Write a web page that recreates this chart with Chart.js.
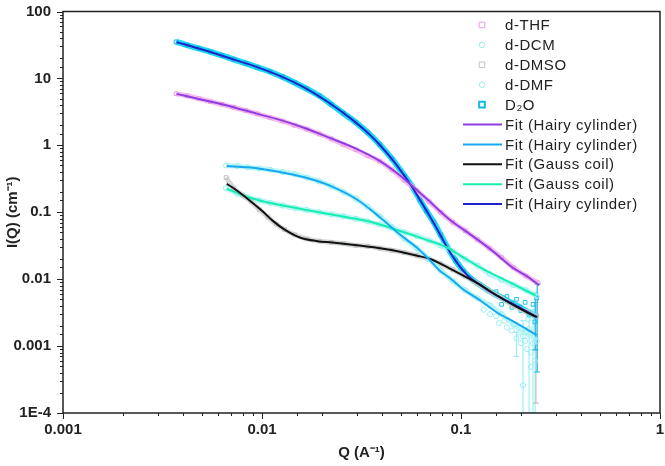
<!DOCTYPE html>
<html>
<head>
<meta charset="utf-8">
<script src="https://cdn.jsdelivr.net/npm/chart.js@4.4.0/dist/chart.umd.min.js"></script>
<style>
  body { margin: 0; background: #fff; }
  #wrap { width: 665px; height: 466px; }
</style>
</head>
<body>
<div id="wrap"><canvas id="sansChart" width="665" height="466"></canvas></div>
<script>
// ---- values (Q in A^-1, I in cm^-1) ----

// measured points
const thfQ = [0.0037, 0.0042, 0.0048, 0.0055, 0.0063, 0.0072, 0.0083, 0.0095, 0.011, 0.0127, 0.0146, 0.0168, 0.0194, 0.0223, 0.0257, 0.0296, 0.034, 0.039, 0.045, 0.052, 0.06, 0.069, 0.079, 0.091, 0.105, 0.121, 0.139, 0.16, 0.184, 0.212, 0.244];
const thfI = [5.9, 5.5, 5.0, 4.5, 4.1, 3.7, 3.3, 2.95, 2.6, 2.3, 2.0, 1.75, 1.48, 1.25, 1.03, 0.86, 0.7, 0.58, 0.43, 0.3, 0.21, 0.145, 0.1, 0.071, 0.053, 0.039, 0.029, 0.021, 0.0148, 0.0112, 0.0088];

const dcmQ = [0.0066, 0.0075, 0.0085, 0.0097, 0.011, 0.0127, 0.0146, 0.0168, 0.0194, 0.0223, 0.0257, 0.0296, 0.034, 0.039, 0.045, 0.052, 0.06, 0.069, 0.079, 0.091, 0.105, 0.121, 0.139, 0.16, 0.184, 0.212, 0.24];
const dcmI = [0.5, 0.49, 0.47, 0.45, 0.43, 0.4, 0.37, 0.33, 0.29, 0.245, 0.2, 0.16, 0.12, 0.087, 0.06, 0.04, 0.029, 0.02, 0.0135, 0.0094, 0.0068, 0.0052, 0.0041, 0.003, 0.0021, 0.0016, 0.0012];

const dmsoQ = [0.0066, 0.0072, 0.008, 0.0088, 0.0097, 0.0107, 0.0118, 0.013, 0.0146, 0.0168, 0.0194, 0.0223, 0.0257, 0.0296, 0.034, 0.039, 0.045, 0.052, 0.06, 0.069, 0.079, 0.091, 0.105, 0.121, 0.139, 0.16, 0.184, 0.212, 0.24];
const dmsoI = [0.33, 0.23, 0.18, 0.145, 0.11, 0.085, 0.066, 0.055, 0.046, 0.04, 0.037, 0.0355, 0.034, 0.032, 0.031, 0.029, 0.027, 0.025, 0.0225, 0.02, 0.017, 0.0138, 0.011, 0.0086, 0.0066, 0.0052, 0.004, 0.0033, 0.0028];

const dmfQ = [0.0066, 0.0075, 0.0085, 0.0097, 0.011, 0.0127, 0.0146, 0.0168, 0.0194, 0.0223, 0.0257, 0.0296, 0.034, 0.039, 0.045, 0.052, 0.06, 0.069, 0.079, 0.091, 0.105, 0.121, 0.139, 0.16, 0.184, 0.212, 0.24];
const dmfI = [0.23, 0.19, 0.167, 0.15, 0.138, 0.126, 0.116, 0.108, 0.1, 0.093, 0.087, 0.08, 0.073, 0.066, 0.058, 0.05, 0.044, 0.038, 0.032, 0.026, 0.02, 0.016, 0.012, 0.0098, 0.0082, 0.0068, 0.0056];

const d2oQ = [0.0037, 0.0042, 0.0048, 0.0055, 0.0063, 0.0072, 0.0083, 0.0095, 0.011, 0.0127, 0.0146, 0.0168, 0.0194, 0.0223, 0.0257, 0.0296, 0.034, 0.039, 0.045, 0.052, 0.057, 0.062, 0.067, 0.073, 0.079, 0.086, 0.094, 0.103, 0.113, 0.124, 0.136, 0.149, 0.164, 0.18, 0.198, 0.218, 0.24];
const d2oI = [35.2, 31.5, 28, 25, 22, 19.3, 16.8, 14.6, 12.6, 10.5, 8.6, 7.0, 5.5, 4.1, 3.0, 2.2, 1.55, 1.03, 0.63, 0.35, 0.24, 0.155, 0.105, 0.071, 0.046, 0.029, 0.019, 0.0132, 0.01, 0.0083, 0.0069, 0.0059, 0.0051, 0.0044, 0.0038, 0.0032, 0.0028];

// noisy high-Q points
const tailLightQ = [0.13, 0.14, 0.15, 0.155, 0.165, 0.17, 0.18, 0.185, 0.19, 0.195, 0.2, 0.205, 0.21, 0.215, 0.22, 0.225, 0.23, 0.235, 0.205, 0.225, 0.218];
const tailLightI = [0.0035, 0.003, 0.0028, 0.0022, 0.0024, 0.0019, 0.0017, 0.0021, 0.0013, 0.0016, 0.0011, 0.0014, 0.0012, 0.0009, 0.0018, 0.0008, 0.0011, 0.0006, 0.00026, 0.00049, 0.0025];
const tailD2oQ = [0.15, 0.16, 0.17, 0.18, 0.19, 0.2, 0.21, 0.22, 0.23, 0.235, 0.24];
const tailD2oI = [0.0065, 0.0042, 0.0055, 0.0038, 0.005, 0.0034, 0.0045, 0.0029, 0.0042, 0.0023, 0.0052];

// error bars at the end of the curves
const errLightQ = [0.19, 0.205, 0.22, 0.23, 0.236];
const errLightHi = [0.0016, 0.0024, 0.003, 0.0035, 0.004];
const errLightLo = [0.0007, 0.0001, 0.0001, 0.0001, 0.0001];
const errD2oQ = [0.236, 0.2415];
const errD2oHi = [0.0062, 0.0085];
const errD2oLo = [0.00088, 0.00041];
const errDmsoQ = [0.238];
const errDmsoHi = [0.0045];
const errDmsoLo = [0.00014];

// fits
const fitThfQ = [0.00372, 0.005, 0.00689, 0.0095, 0.0123, 0.0165, 0.0219, 0.03, 0.039, 0.049, 0.067, 0.0875, 0.11, 0.145, 0.181, 0.215, 0.247];
const fitThfI = [5.87, 4.8, 3.85, 2.95, 2.4, 1.8, 1.29, 0.88, 0.586, 0.36, 0.16, 0.078, 0.048, 0.026, 0.015, 0.011, 0.0081];

const fitDcmQ = [0.00665, 0.0085, 0.0123, 0.0165, 0.0219, 0.03, 0.039, 0.05, 0.0597, 0.07, 0.078, 0.0875, 0.1016, 0.125, 0.151, 0.19, 0.24];
const fitDcmI = [0.49, 0.47, 0.4, 0.33, 0.25, 0.155, 0.085, 0.045, 0.03, 0.019, 0.0135, 0.0105, 0.0072, 0.0048, 0.0032, 0.0022, 0.00146];

const fitDmsoQ = [0.00665, 0.0075, 0.0087, 0.01, 0.0113, 0.013, 0.0155, 0.019, 0.0226, 0.03, 0.04, 0.05, 0.0597, 0.07, 0.0875, 0.1016, 0.125, 0.15, 0.181, 0.21, 0.24];
const fitDmsoI = [0.267, 0.21, 0.149, 0.105, 0.075, 0.055, 0.042, 0.037, 0.0353, 0.032, 0.0287, 0.0255, 0.0226, 0.02, 0.0145, 0.0115, 0.0082, 0.0058, 0.0042, 0.0033, 0.0027];

const fitDmfQ = [0.00665, 0.0087, 0.0113, 0.0155, 0.02, 0.0275, 0.035, 0.049, 0.065, 0.0845, 0.1016, 0.13, 0.181, 0.237];
const fitDmfI = [0.224, 0.165, 0.135, 0.113, 0.098, 0.083, 0.072, 0.053, 0.04, 0.03, 0.0215, 0.014, 0.0086, 0.0057];

const fitD2oQ = [0.00372, 0.005, 0.0069, 0.0093, 0.0123, 0.0166, 0.0219, 0.0285, 0.035, 0.039, 0.045, 0.052, 0.057, 0.0618, 0.07, 0.0775, 0.0845, 0.095, 0.1076, 0.125, 0.139, 0.16, 0.181, 0.21, 0.2415];
const fitD2oI = [34.9, 27, 20, 15, 10.9, 7.1, 4.25, 2.4, 1.42, 1.02, 0.62, 0.35, 0.235, 0.158, 0.085, 0.05, 0.031, 0.018, 0.0115, 0.0082, 0.0066, 0.0052, 0.0043, 0.0034, 0.0027];

// axis ticks
const xTickValues = [0.001, 0.01, 0.1, 1];
const xTickLabels = ['0.001', '0.01', '0.1', '1'];
const yTickValues = [1e-4, 0.001, 0.01, 0.1, 1, 10, 100];
const yTickLabels = ['1E-4', '0.001', '0.01', '0.1', '1', '10', '100'];

// ---- helpers ----
function pts(qs, is) {
    return qs.map((q, k) => ({ x: q, y: is[k] }));
}

function tickLabel(values, labels) {
    return function(value) {
        const k = values.findIndex(v => Math.abs(v - value) / v < 1e-6);
        return k >= 0 ? labels[k] : '';
    };
}

const FONT = '"Liberation Sans", Arial, sans-serif';

function markerSet(label, data, halo, mark, style, row, extra) {
    return Object.assign({
        label: label,
        data: data,
        showLine: true,
        borderColor: halo,
        borderWidth: 5,
        tension: 0.3,
        pointStyle: style,
        pointRadius: 2.6,
        pointBorderColor: mark,
        pointBackgroundColor: 'rgba(255,255,255,0)',
        pointBorderWidth: 1,
        order: 5,
        legendRow: row,
        legendKind: 'marker'
    }, extra || {});
}

function fitSet(label, data, color, row) {
    return {
        label: label,
        data: data,
        showLine: true,
        borderColor: color,
        borderWidth: 2,
        pointRadius: 0,
        cubicInterpolationMode: 'monotone',
        order: 1,
        legendRow: row,
        legendKind: 'line'
    };
}

function noiseSet(data, mark, style) {
    return {
        data: data,
        showLine: false,
        pointStyle: style,
        pointRadius: 2.6,
        pointBorderColor: mark,
        pointBackgroundColor: 'rgba(255,255,255,0)',
        pointBorderWidth: 1,
        order: 6
    };
}

// ---- plugins ----
const errorBars = {
    id: 'errorBars',
    beforeDatasetsDraw(chart) {
        const { ctx, scales: { x, y }, chartArea } = chart;
        const groups = [
            [errLightQ, errLightLo, errLightHi, '#9ff0f4'],
            [errDmsoQ, errDmsoLo, errDmsoHi, '#c4c4c4'],
            [errD2oQ, errD2oLo, errD2oHi, '#19b6e6']
        ];
        ctx.save();
        ctx.beginPath();
        ctx.rect(chartArea.left, chartArea.top, chartArea.right - chartArea.left, chartArea.bottom - chartArea.top);
        ctx.clip();
        ctx.lineWidth = 1.2;
        groups.forEach(([qs, lo, hi, color]) => {
            ctx.strokeStyle = color;
            qs.forEach((q, k) => {
                const px = x.getPixelForValue(q);
                const y1 = y.getPixelForValue(lo[k]);
                const y2 = y.getPixelForValue(hi[k]);
                ctx.beginPath();
                ctx.moveTo(px, y1); ctx.lineTo(px, y2);
                ctx.moveTo(px - 3, y1); ctx.lineTo(px + 3, y1);
                ctx.moveTo(px - 3, y2); ctx.lineTo(px + 3, y2);
                ctx.stroke();
            });
        });
        ctx.restore();
    }
};

const frameAndTicks = {
    id: 'frameAndTicks',
    afterDraw(chart) {
        const { ctx, chartArea: a, scales: { x, y } } = chart;
        ctx.save();
        ctx.strokeStyle = '#222';
        ctx.lineWidth = 1.5;
        ctx.strokeRect(a.left, a.top, a.right - a.left, a.bottom - a.top);
        ctx.lineWidth = 1;
        const isMajor = v => Math.abs(Math.log10(v) - Math.round(Math.log10(v))) < 1e-6;
        x.ticks.forEach(t => {
            const px = Math.round(x.getPixelForValue(t.value)) + 0.5;
            const len = isMajor(t.value) ? 6 : 3;
            ctx.beginPath();
            ctx.moveTo(px, a.bottom); ctx.lineTo(px, a.bottom + len);
            ctx.stroke();
        });
        y.ticks.forEach(t => {
            const py = Math.round(y.getPixelForValue(t.value)) + 0.5;
            const len = isMajor(t.value) ? 6 : 3;
            ctx.beginPath();
            ctx.moveTo(a.left, py); ctx.lineTo(a.left - len, py);
            ctx.stroke();
        });
        ctx.restore();
    }
};

const insideLegend = {
    id: 'insideLegend',
    afterDraw(chart) {
        const ctx = chart.ctx;
        const top = 25, step = 19.9, markX = 482, textX = 505;
        ctx.save();
        ctx.font = '15px ' + FONT;
        ctx.letterSpacing = '0.55px';
        ctx.textBaseline = 'middle';
        ctx.fillStyle = '#222';
        chart.data.datasets.forEach(d => {
            if (d.legendRow === undefined) return;
            const ly = top + step * d.legendRow;
            if (d.legendKind === 'line') {
                ctx.strokeStyle = d.borderColor;
                ctx.lineWidth = 2;
                ctx.beginPath();
                ctx.moveTo(463, ly); ctx.lineTo(502, ly);
                ctx.stroke();
            } else {
                ctx.strokeStyle = d.pointBorderColor;
                ctx.lineWidth = d.legendMarkWidth || 1;
                ctx.beginPath();
                if (d.pointStyle === 'circle') ctx.arc(markX, ly, 2.8, 0, Math.PI * 2);
                else ctx.rect(markX - 2.8, ly - 2.8, 5.6, 5.6);
                ctx.stroke();
            }
            ctx.fillStyle = '#222';
            ctx.fillText(d.label, textX, ly + 1);
        });
        ctx.restore();
    }
};

// ---- chart ----
const datasets = [
    fitSet('Fit (Hairy cylinder)', pts(fitThfQ, fitThfI), '#8d3fe3', 5),
    fitSet('Fit (Hairy cylinder)', pts(fitDcmQ, fitDcmI), '#17a9f0', 6),
    fitSet('Fit (Gauss coil)', pts(fitDmsoQ, fitDmsoI), '#111111', 7),
    fitSet('Fit (Gauss coil)', pts(fitDmfQ, fitDmfI), '#14efad', 8),
    fitSet('Fit (Hairy cylinder)', pts(fitD2oQ, fitD2oI), '#2222cc', 9),
    markerSet('d-THF', pts(thfQ, thfI), 'rgba(246,176,236,0.85)', '#f29ae2', 'rect', 0),
    markerSet('d-DCM', pts(dcmQ, dcmI), 'rgba(170,244,246,0.8)', '#9aeef2', 'circle', 1),
    markerSet('d-DMSO', pts(dmsoQ, dmsoI), 'rgba(205,208,208,0.8)', '#bfc2c2', 'rect', 2),
    markerSet('d-DMF', pts(dmfQ, dmfI), 'rgba(170,244,246,0.8)', '#9aeef2', 'circle', 3),
    markerSet('D\u2082O', pts(d2oQ, d2oI), 'rgba(0,214,240,0.9)', '#10b8e4', 'rect', 4, { borderWidth: 6, legendMarkWidth: 2 }),
    noiseSet(pts(tailLightQ, tailLightI), '#9aeef2', 'circle'),
    noiseSet(pts(tailD2oQ, tailD2oI), '#22c4ec', 'rect')
];

new Chart(document.getElementById('sansChart'), {
    type: 'scatter',
    data: { datasets: datasets },
    options: {
        responsive: false,
        animation: false,
        layout: { padding: { top: 4, right: 0, left: 0, bottom: 0 } },
        plugins: {
            legend: { display: false },
            tooltip: { enabled: false }
        },
        scales: {
            x: {
                type: 'logarithmic',
                min: 0.001,
                max: 1,
                afterFit: s => { s.height = 53; },
                border: { display: false },
                grid: { display: false },
                ticks: {
                    autoSkip: false,
                    maxRotation: 0,
                    padding: 0,
                    color: '#222',
                    font: { family: FONT, size: 15, weight: 'bold' },
                    callback: tickLabel(xTickValues, xTickLabels)
                },
                title: {
                    display: true,
                    text: 'Q (A\u207B\u00B9)',
                    color: '#222',
                    font: { family: FONT, size: 15, weight: 'bold' },
                    padding: { top: 0, bottom: 4 }
                }
            },
            y: {
                type: 'logarithmic',
                min: 1e-4,
                max: 100,
                afterFit: s => { s.width = 63; },
                border: { display: false },
                grid: { display: false },
                ticks: {
                    autoSkip: false,
                    padding: 4,
                    color: '#222',
                    font: { family: FONT, size: 15, weight: 'bold', lineHeight: 1.0 },
                    callback: tickLabel(yTickValues, yTickLabels)
                },
                title: {
                    display: true,
                    text: 'I(Q) (cm\u207B\u00B9)',
                    color: '#222',
                    font: { family: FONT, size: 15, weight: 'bold' },
                    padding: { top: 4, bottom: 0 }
                }
            }
        }
    },
    plugins: [errorBars, frameAndTicks, insideLegend]
});
</script>
</body>
</html>
